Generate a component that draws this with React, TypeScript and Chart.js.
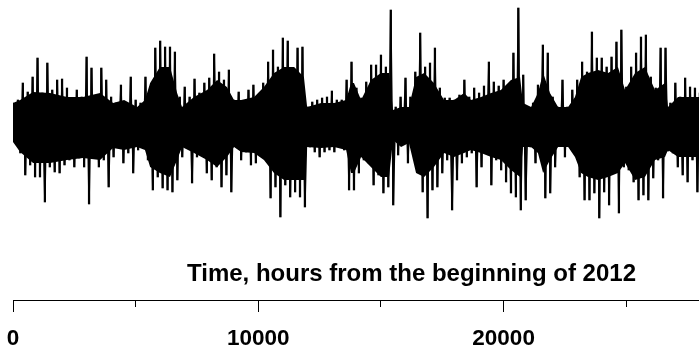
import React, { useEffect, useRef } from 'react';
import { Chart, registerables } from 'chart.js';

Chart.register(...registerables);

// Hourly series summarised per 200-hour bin: highest and lowest value in each bin
const BIN_HOURS = 200;
const highs = [
  2.0, 2.3, 4.0, 3.1, 4.6, 6.5, 3.0, 6.0, 3.3, 4.3,
  4.4, 3.5, 2.3, 3.3, 2.6, 6.6, 5.5, 2.6, 5.5, 4.3,
  2.6, 2.0, 3.8, 2.0, 4.6, 2.3, 2.0, 4.6, 3.6, 7.5,
  8.2, 7.6, 7.6, 7.1, 2.6, 3.6, 2.6, 4.4, 3.0, 4.0,
  4.5, 6.9, 5.1, 4.3, 5.3, 2.3, 3.1, 2.0, 3.3, 3.8,
  2.8, 4.0, 6.1, 7.3, 5.6, 8.5, 8.2, 4.3, 7.5, 7.6,
  1.6, 2.1, 2.3, 2.5, 2.6, 3.2, 2.3, 2.3, 4.3, 6.1,
  3.5, 2.5, 4.1, 5.8, 5.8, 6.8, 5.6, 11.3, 1.6, 2.6,
  4.5, 2.6, 5.1, 9.0, 5.6, 6.0, 7.5, 3.5, 2.5, 2.5,
  2.3, 2.8, 4.3, 2.6, 3.5, 3.0, 3.7, 6.1, 4.1, 3.7,
  4.3, 3.6, 7.0, 11.5, 4.8, 1.6, 2.0, 3.8, 7.8, 7.0,
  2.6, 1.6, 4.3, 1.6, 3.3, 4.3, 6.1, 5.1, 9.1, 6.5,
  6.5, 5.6, 6.6, 8.1, 9.3, 3.6, 5.6, 7.0, 8.6, 8.8,
  4.6, 3.5, 7.5, 7.5, 2.0, 4.0, 2.6, 4.5, 3.6, 3.5,
  3.0,
];
const lows = [
  -1.9, -3.0, -5.2, -4.2, -5.4, -5.4, -7.9, -4.4, -4.9, -5.0,
  -4.2, -3.7, -4.4, -3.5, -4.4, -8.1, -3.4, -4.4, -3.7, -6.4,
  -3.4, -2.2, -4.0, -3.0, -5.0, -2.7, -2.4, -3.7, -6.7, -5.4,
  -6.5, -6.7, -6.9, -5.7, -3.4, -2.4, -6.0, -3.4, -2.4, -5.0,
  -5.7, -4.4, -6.4, -5.2, -6.9, -2.4, -3.7, -2.9, -4.2, -4.0,
  -3.0, -3.5, -7.5, -6.4, -9.4, -6.2, -7.4, -6.9, -7.4, -8.4,
  -2.4, -2.9, -3.4, -2.9, -2.7, -2.9, -2.0, -2.7, -6.7, -6.7,
  -5.0, -3.7, -4.0, -6.2, -5.2, -7.0, -6.4, -8.2, -3.2, -2.0,
  -4.0, -2.0, -4.7, -6.9, -9.5, -6.7, -6.4, -5.0, -3.7, -8.7,
  -5.7, -4.0, -3.4, -3.0, -6.4, -4.4, -3.0, -6.2, -3.7, -4.7,
  -5.9, -7.0, -7.4, -8.7, -7.7, -2.4, -4.0, -3.2, -7.5, -7.0,
  -4.4, -2.0, -3.4, -2.2, -3.0, -5.4, -7.7, -7.7, -7.0, -9.5,
  -6.9, -8.2, -4.7, -9.0, -4.4, -4.7, -5.9, -7.7, -7.2, -7.7,
  -5.5, -3.7, -7.5, -2.8, -3.0, -4.4, -5.2, -5.9, -3.7, -6.9,
  -3.6,
];

// Dense core of the series (where the trace is solid black), read at these hours
const coreHours = [
  0, 290, 820, 1510, 2200, 2850, 3550, 4080, 4530, 5060,
  5380, 5590, 5990, 6400, 6690, 6890, 7380, 7910, 8320, 8720,
  9010, 9300, 9830, 10230, 10640, 11050, 11460, 11860, 11990, 12560,
  13090, 13580, 13780, 13900, 14190, 14590, 15000, 15330, 15490, 15820,
  16140, 16430, 16760, 17160, 17570, 17980, 18390, 18670, 19080, 19490,
  19890, 20300, 20670, 20790, 21120, 21400, 21610, 21890, 22220, 22630,
  22910, 23160, 23440, 23850, 24260, 24660, 24950, 25360, 25760, 26170,
  26580, 26700, 27110, 27520, 27930, 28400,
];
const coreHigh = [
  2.0, 2.3, 3.1, 3.0, 2.6, 2.6, 3.0, 2.0, 2.3, 1.6,
  2.3, 4.0, 5.6, 5.6, 3.0, 1.6, 2.6, 3.3, 4.3, 3.6,
  2.3, 2.3, 2.6, 3.6, 5.0, 5.6, 5.6, 4.6, 1.6, 2.0,
  2.0, 2.3, 4.0, 4.0, 2.3, 4.3, 5.0, 5.0, 1.3, 1.6,
  1.6, 4.6, 5.0, 4.0, 2.3, 2.3, 3.0, 2.3, 2.6, 3.0,
  3.3, 4.3, 4.6, 2.0, 1.6, 3.0, 5.0, 3.0, 1.6, 1.6,
  2.6, 4.6, 5.0, 5.3, 5.0, 5.6, 3.3, 5.0, 5.6, 3.3,
  4.0, 1.6, 2.6, 2.6, 2.6, 2.6,
];
const coreLow = [
  -1.9, -2.9, -4.0, -4.0, -3.7, -3.5, -3.7, -2.5, -2.7, -2.4,
  -2.7, -4.4, -5.0, -5.4, -3.7, -2.4, -3.0, -3.7, -4.4, -3.4,
  -2.4, -2.9, -3.0, -3.7, -5.0, -5.7, -5.7, -5.7, -2.4, -2.5,
  -2.4, -2.7, -5.0, -5.0, -3.4, -4.4, -5.4, -5.4, -1.7, -2.4,
  -2.0, -5.0, -5.4, -4.4, -3.0, -3.4, -3.0, -2.7, -3.0, -3.4,
  -3.7, -4.7, -5.4, -2.4, -2.4, -3.0, -5.0, -3.7, -2.4, -2.4,
  -3.4, -5.0, -5.4, -5.7, -5.4, -5.0, -4.0, -5.7, -5.4, -3.7,
  -3.4, -2.7, -3.4, -3.4, -3.4, -3.4,
];

const X_MIN = 0;
const X_MAX = 32490;
const Y_MIN = -12.7;
const Y_MAX = 12.3;
const majorTicks = [0, 10000, 20000, 30000];
const minorTicks = [5000, 15000, 25000];
const axisTitle = 'Time, hours from the beginning of 2012';

const FONT_FAMILY = '"Liberation Sans", Arial, Helvetica, sans-serif';

export default function App() {
  const canvasRef = useRef<HTMLCanvasElement | null>(null);

  useEffect(() => {
    if (!canvasRef.current) return;
    const lowOffset = BIN_HOURS / 2;
    const upSpikes = highs.map((h, i) => ({ x: i * BIN_HOURS, y: [0, h] }));
    const downSpikes = lows.map((l, i) => ({ x: i * BIN_HOURS + lowOffset, y: [l, 0] }));
    const trace: { x: number; y: number }[] = [];
    highs.forEach((h, i) => {
      trace.push({ x: i * BIN_HOURS, y: h });
      trace.push({ x: i * BIN_HOURS + lowOffset, y: lows[i] });
    });
    const coreTop = coreHours.map((x, i) => ({ x, y: coreHigh[i] }));
    const coreBottom = coreHours.map((x, i) => ({ x, y: coreLow[i] }));
    const allTicks = [...majorTicks, ...minorTicks].sort((a, b) => a - b);

    const spikeStyle = {
      type: 'bar',
      backgroundColor: '#000',
      borderWidth: 0,
      barThickness: 1.6,
      grouped: false,
    };

    const chart = new Chart(canvasRef.current, {
      type: 'line',
      data: {
        datasets: [
          {
            type: 'line',
            data: coreTop,
            borderWidth: 0,
            borderColor: 'rgba(0,0,0,0)',
            backgroundColor: '#000',
            pointRadius: 0,
            tension: 0,
            fill: '+1',
          },
          {
            type: 'line',
            data: coreBottom,
            borderWidth: 0,
            borderColor: 'rgba(0,0,0,0)',
            backgroundColor: '#000',
            pointRadius: 0,
            tension: 0,
            fill: false,
          },
          {
            type: 'line',
            data: trace,
            borderColor: '#000',
            borderWidth: 1.5,
            borderJoinStyle: 'bevel',
            pointRadius: 0,
            tension: 0,
            fill: false,
          },
          { ...spikeStyle, data: upSpikes },
          { ...spikeStyle, data: downSpikes },
        ],
      },
      options: {
        animation: false,
        responsive: true,
        maintainAspectRatio: false,
        layout: { padding: { left: 13, right: 0, top: 0, bottom: 0 } },
        plugins: { legend: { display: false }, tooltip: { enabled: false }, title: { display: false } },
        scales: {
          y: { display: false, min: Y_MIN, max: Y_MAX },
          xt: {
            axis: 'x',
            type: 'linear',
            position: 'bottom',
            weight: -1,
            offset: false,
            min: X_MIN,
            max: X_MAX,
            grid: { display: false },
            border: { display: false },
            ticks: { display: false },
            title: {
              display: true,
              text: axisTitle,
              color: '#000',
              font: { family: FONT_FAMILY, size: 24, weight: 'bold' },
              padding: { top: 11, bottom: 11 },
            },
            afterFit: (s: any) => { s.height = 50; s.paddingLeft = 0; s.paddingRight = 0; },
          },
          x: {
            type: 'linear',
            position: 'bottom',
            weight: 1,
            offset: false,
            min: X_MIN,
            max: X_MAX,
            afterBuildTicks: (s: any) => { s.ticks = allTicks.map((v) => ({ value: v })); },
            grid: {
              display: true,
              offset: false,
              drawOnChartArea: false,
              drawTicks: true,
              tickLength: 12,
              tickWidth: 1,
              tickColor: '#000',
              tickBorderDash: (ctx: any) => (majorTicks.includes(ctx.tick?.value) ? [] : [6, 100]),
            },
            border: { display: true, color: '#000', width: 1 },
            ticks: {
              color: '#000',
              padding: 13,
              maxRotation: 0,
              autoSkip: false,
              font: { family: FONT_FAMILY, size: 22.5, weight: 'bold' },
              callback: (v: any) => (majorTicks.includes(Number(v)) ? String(v) : ''),
            },
            afterFit: (s: any) => { s.height = 54; s.paddingLeft = 0; s.paddingRight = 0; },
          },
        },
      } as any,
    });
    return () => chart.destroy();
  }, []);

  return (
    <div style={{ position: 'fixed', left: 0, top: 0, width: 699, height: 354, overflow: 'hidden', background: '#fff' }}>
      <div style={{ position: 'relative', width: 810, height: 354 }}>
        <canvas ref={canvasRef} />
      </div>
    </div>
  );
}
